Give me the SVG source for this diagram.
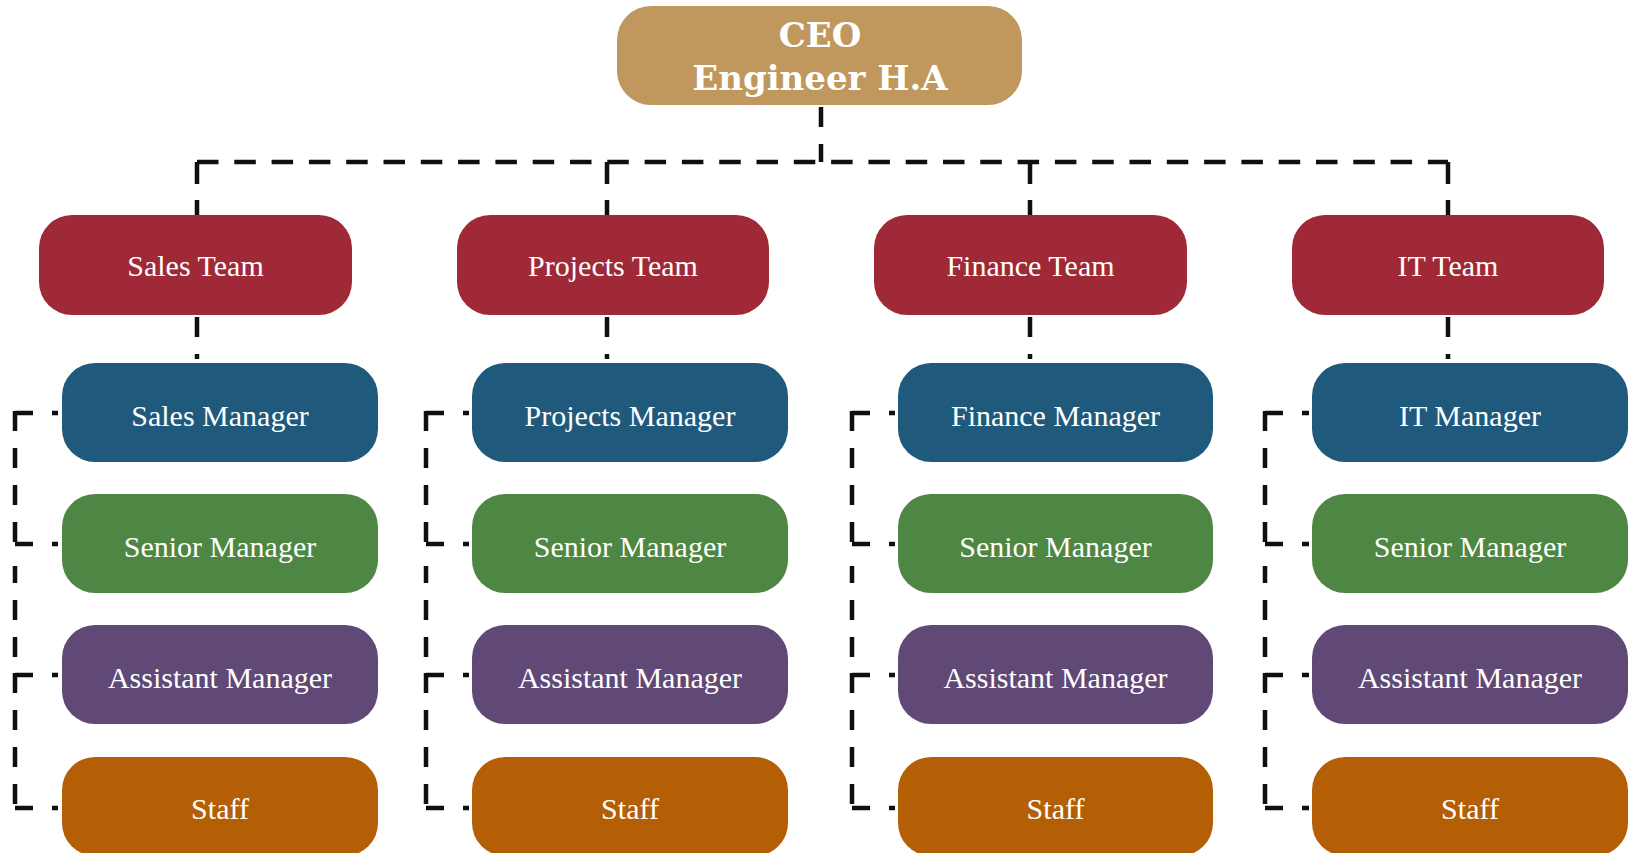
<svg xmlns="http://www.w3.org/2000/svg" width="1628" height="853" viewBox="0 0 1628 853">
<style>
.t{font-family:"Liberation Serif","Times New Roman",serif;font-size:30px;fill:#ffffff;text-anchor:middle}
.ceo{font-family:"DejaVu Serif","Liberation Serif",serif;font-size:34px;font-weight:bold;fill:#ffffff;text-anchor:middle}
.c{fill:none;stroke:#0f0f0f;stroke-width:4.5}
.h{stroke-dasharray:21.5 15.8}
.v{stroke-dasharray:20 17}
.s{stroke-dasharray:18 19}
.team{fill:#a02937}
.mgr{fill:#1f5a7d}
.sen{fill:#4e8643}
.ast{fill:#604877}
.stf{fill:#b45f06}
</style>
<rect width="1628" height="853" fill="#ffffff"/>
<g id="connectors">
<path class="c h" d="M197,162 H1448"/>
<path class="c v" d="M821,107 V162"/>
<path class="c" style="stroke-dasharray:22 16" d="M197,162 V215 M607,162 V215 M1030,162 V215 M1448,162 V215"/>
<path class="c v" d="M197,317 V359 M607,317 V359 M1030,317 V359 M1448,317 V359"/>
<!-- Sales bracket -->
<path class="c s" d="M15,413 H58 M15,544 H58 M15,675 H58 M15,808 H58"/>
<path class="c v" d="M15,411 V546 M15,657 V566 M15,673 V810"/>
<!-- Projects bracket -->
<path class="c s" d="M426,413 H469 M426,544 H469 M426,675 H469 M426,808 H469"/>
<path class="c v" d="M426,411 V546 M426,657 V566 M426,673 V810"/>
<!-- Finance bracket -->
<path class="c s" d="M852,413 H895 M852,544 H895 M852,675 H895 M852,808 H895"/>
<path class="c v" d="M852,411 V546 M852,657 V566 M852,673 V810"/>
<!-- IT bracket -->
<path class="c s" d="M1265,413 H1309 M1265,544 H1309 M1265,675 H1309 M1265,808 H1309"/>
<path class="c v" d="M1265,411 V546 M1265,657 V566 M1265,673 V810"/>
</g>
<g id="ceo">
<rect x="617" y="6" width="405" height="99" rx="34" fill="#c0975c"/>
<text class="ceo" x="820" y="47">CEO</text>
<text class="ceo" x="820" y="90">Engineer H.A</text>
</g>
<g id="sales-team"><rect class="team" x="39" y="215" width="313" height="100" rx="33"/><text class="t" x="195.5" y="276">Sales Team</text></g>
<g id="projects-team"><rect class="team" x="457" y="215" width="312" height="100" rx="33"/><text class="t" x="613" y="276">Projects Team</text></g>
<g id="finance-team"><rect class="team" x="874" y="215" width="313" height="100" rx="33"/><text class="t" x="1030.5" y="276">Finance Team</text></g>
<g id="it-team"><rect class="team" x="1292" y="215" width="312" height="100" rx="33"/><text class="t" x="1448" y="276">IT Team</text></g>

<g id="sales-manager"><rect class="mgr" x="62" y="363" width="316" height="99" rx="33"/><text class="t" x="220" y="426">Sales Manager</text></g>
<g id="sales-senior"><rect class="sen" x="62" y="494" width="316" height="99" rx="33"/><text class="t" x="220" y="557">Senior Manager</text></g>
<g id="sales-assistant"><rect class="ast" x="62" y="625" width="316" height="99" rx="33"/><text class="t" x="220" y="688">Assistant Manager</text></g>
<g id="sales-staff"><rect class="stf" x="62" y="757" width="316" height="99" rx="33"/><text class="t" x="220" y="819">Staff</text></g>

<g id="projects-manager"><rect class="mgr" x="472" y="363" width="316" height="99" rx="33"/><text class="t" x="630" y="426">Projects Manager</text></g>
<g id="projects-senior"><rect class="sen" x="472" y="494" width="316" height="99" rx="33"/><text class="t" x="630" y="557">Senior Manager</text></g>
<g id="projects-assistant"><rect class="ast" x="472" y="625" width="316" height="99" rx="33"/><text class="t" x="630" y="688">Assistant Manager</text></g>
<g id="projects-staff"><rect class="stf" x="472" y="757" width="316" height="99" rx="33"/><text class="t" x="630" y="819">Staff</text></g>

<g id="finance-manager"><rect class="mgr" x="898" y="363" width="315" height="99" rx="33"/><text class="t" x="1055.5" y="426">Finance Manager</text></g>
<g id="finance-senior"><rect class="sen" x="898" y="494" width="315" height="99" rx="33"/><text class="t" x="1055.5" y="557">Senior Manager</text></g>
<g id="finance-assistant"><rect class="ast" x="898" y="625" width="315" height="99" rx="33"/><text class="t" x="1055.5" y="688">Assistant Manager</text></g>
<g id="finance-staff"><rect class="stf" x="898" y="757" width="315" height="99" rx="33"/><text class="t" x="1055.5" y="819">Staff</text></g>

<g id="it-manager"><rect class="mgr" x="1312" y="363" width="316" height="99" rx="33"/><text class="t" x="1470" y="426">IT Manager</text></g>
<g id="it-senior"><rect class="sen" x="1312" y="494" width="316" height="99" rx="33"/><text class="t" x="1470" y="557">Senior Manager</text></g>
<g id="it-assistant"><rect class="ast" x="1312" y="625" width="316" height="99" rx="33"/><text class="t" x="1470" y="688">Assistant Manager</text></g>
<g id="it-staff"><rect class="stf" x="1312" y="757" width="316" height="99" rx="33"/><text class="t" x="1470" y="819">Staff</text></g>
</svg>
